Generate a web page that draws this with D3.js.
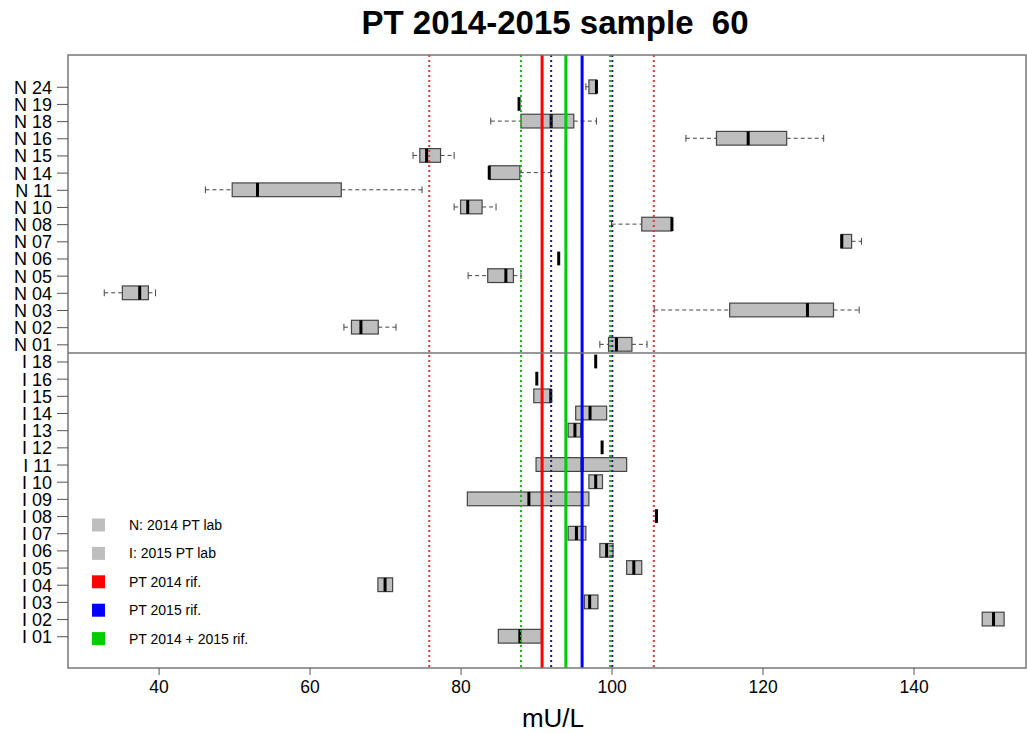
<!DOCTYPE html>
<html>
<head>
<meta charset="utf-8">
<script src="https://cdn.jsdelivr.net/npm/d3@7"></script>
<style>
  body { margin: 0; background: #fff; }
  svg { font-family: "Liberation Sans", Arial, sans-serif; }
</style>
</head>
<body>
<div id="main"></div>
<script>
'use strict';

// rows, bottom to top
var labels = ['I 01','I 02','I 03','I 04','I 05','I 06','I 07','I 08','I 09','I 10','I 11','I 12','I 13','I 14','I 15','I 16','I 18',
              'N 01','N 02','N 03','N 04','N 05','N 06','N 07','N 08','N 10','N 11','N 14','N 15','N 16','N 18','N 19','N 24'];
var lo  = [85.0,149.1,96.4,69.05,102.0,98.45,94.25,105.95,80.9,97.0,90.0,98.75,94.25,95.25,89.7,90.1,97.9,
           98.45,64.55,105.65,32.8,81.0,93.0,130.4,100.0,79.15,46.2,83.8,73.7,109.85,84.0,87.75,96.6];
var q1  = [85.0,149.1,96.4,69.05,102.0,98.45,94.25,105.95,80.9,97.0,90.0,98.75,94.25,95.25,89.7,90.1,97.9,
           99.6,65.55,115.65,35.2,83.6,93.0,130.4,104.0,80.0,49.75,83.8,74.6,113.9,88.0,87.75,97.0];
var med = [87.85,150.6,97.1,70.0,102.95,99.35,95.35,105.95,89.05,97.9,96.1,98.75,95.15,97.15,91.95,90.1,97.9,
           100.65,66.8,125.95,37.5,86.0,93.0,130.5,108.0,80.95,53.1,83.8,75.5,118.1,92.0,87.75,98.0];
var q3  = [90.7,152.0,98.2,71.0,104.0,100.2,96.6,105.95,97.0,98.8,102.0,98.75,95.9,99.35,91.95,90.1,97.9,
           102.7,69.1,129.4,38.65,87.0,93.0,131.8,108.0,82.85,64.2,87.85,77.35,123.2,95.0,87.75,98.0];
var hi  = [90.7,152.0,98.2,71.0,104.0,100.2,96.6,105.95,97.0,98.8,102.0,98.75,95.9,99.35,91.95,90.1,97.9,
           104.7,71.45,132.8,39.6,88.0,93.0,133.1,108.0,84.7,74.9,91.95,79.15,128.1,98.0,87.75,98.0];

// reference values: 2014, 2015, 2014+2015
var refNames  = ['PT 2014 rif.', 'PT 2015 rif.', 'PT 2014 + 2015 rif.'];
var refCenter = [90.8, 96.1, 93.95];
var refLow    = [75.85, 92.0, 88.0];
var refHigh   = [105.6, 100.1, 99.8];
var refColors = ['#ff0000', '#0000ff', '#00cd00'];
var refDotColors = ['#d23c3c', '#1a1a80', '#22b022'];

var xTicks = [40, 60, 80, 100, 120, 140];
var legendLabels = ['N: 2014 PT lab', 'I: 2015 PT lab'].concat(refNames);
var legendColors = ['#bebebe', '#bebebe'].concat(refColors);

var W = 1027, H = 734;
var M = { left: 68, right: 1026, top: 55, bottom: 668 };

var svg = d3.select('#main').append('svg').attr('width', W).attr('height', H);

var x = d3.scaleLinear().domain([28.0, 154.9]).range([M.left, M.right]);
var y = d3.scaleLinear().domain([-0.85, 34.85]).range([M.bottom, M.top]);
var bh = (y(0) - y(0.8)) / 2;   // half box height

var rows = labels.map(function(l, i) {
  return { label: l, pos: i + 1, lo: lo[i], q1: q1[i], med: med[i], q3: q3[i], hi: hi[i] };
});

// boxes
var g = svg.append('g');
rows.forEach(function(d) {
  var cy = y(d.pos);
  if (d.hi > d.q3) {
    g.append('line').attr('x1', x(d.q3)).attr('x2', x(d.hi)).attr('y1', cy).attr('y2', cy)
      .attr('stroke', '#444').attr('stroke-dasharray', '4,3');
    g.append('line').attr('x1', x(d.hi)).attr('x2', x(d.hi)).attr('y1', cy - bh / 2).attr('y2', cy + bh / 2)
      .attr('stroke', '#444');
  }
  if (d.lo < d.q1) {
    g.append('line').attr('x1', x(d.lo)).attr('x2', x(d.q1)).attr('y1', cy).attr('y2', cy)
      .attr('stroke', '#444').attr('stroke-dasharray', '4,3');
    g.append('line').attr('x1', x(d.lo)).attr('x2', x(d.lo)).attr('y1', cy - bh / 2).attr('y2', cy + bh / 2)
      .attr('stroke', '#444');
  }
  if (d.q3 > d.q1) {
    g.append('rect').attr('x', x(d.q1)).attr('y', cy - bh).attr('width', x(d.q3) - x(d.q1)).attr('height', 2 * bh)
      .attr('fill', '#bebebe').attr('stroke', '#444').attr('stroke-width', 1.2);
  }
  g.append('line').attr('x1', x(d.med)).attr('x2', x(d.med)).attr('y1', cy - bh).attr('y2', cy + bh)
    .attr('stroke', '#000').attr('stroke-width', 3);
});

// reference lines
var lg = svg.append('g');
refCenter.forEach(function(v, i) {
  [refLow[i], refHigh[i]].forEach(function(w) {
    lg.append('line').attr('x1', x(w)).attr('x2', x(w)).attr('y1', M.top).attr('y2', M.bottom)
      .attr('stroke', refDotColors[i]).attr('stroke-width', 2).attr('stroke-dasharray', '2,3');
  });
  lg.append('line').attr('x1', x(v)).attr('x2', x(v)).attr('y1', M.top).attr('y2', M.bottom)
    .attr('stroke', refColors[i]).attr('stroke-width', 3);
});

// separator between I and N labs
svg.append('line').attr('x1', M.left).attr('x2', M.right).attr('y1', y(17.5)).attr('y2', y(17.5))
  .attr('stroke', '#777').attr('stroke-width', 1.5);

// frame
svg.append('rect').attr('x', M.left).attr('y', M.top).attr('width', M.right - M.left).attr('height', M.bottom - M.top)
  .attr('fill', 'none').attr('stroke', '#777').attr('stroke-width', 1.5);

// axes
var xAxis = svg.append('g').attr('transform', 'translate(0,' + M.bottom + ')')
  .call(d3.axisBottom(x).tickValues(xTicks).tickSize(7).tickPadding(6));
xAxis.select('.domain').remove();
xAxis.selectAll('line').attr('stroke', '#555');
xAxis.selectAll('text').attr('font-size', 17.5).attr('fill', '#000').attr('font-family', '"Liberation Sans", Arial, sans-serif');

var yAxis = svg.append('g').attr('transform', 'translate(' + M.left + ',0)')
  .call(d3.axisLeft(y).tickValues(rows.map(function(d) { return d.pos; }))
    .tickFormat(function(p) { return labels[p - 1]; }).tickSize(11).tickPadding(5));
yAxis.select('.domain').remove();
yAxis.selectAll('line').attr('stroke', '#555');
yAxis.selectAll('text').attr('font-size', 18).attr('fill', '#000').attr('dy', '0.36em')
  .attr('font-family', '"Liberation Sans", Arial, sans-serif');

// title and axis label
svg.append('text').attr('x', 555).attr('y', 34).attr('text-anchor', 'middle')
  .attr('font-size', 33).attr('font-weight', 'bold').style('white-space', 'pre')
  .text('PT 2014-2015 sample  60');
svg.append('text').attr('x', 553).attr('y', 727).attr('text-anchor', 'middle')
  .attr('font-size', 26).text('mU/L');

// legend
var leg = svg.append('g');
legendLabels.forEach(function(t, i) {
  var ly = 525 + i * 28.4;
  leg.append('rect').attr('x', 92).attr('y', ly - 6.5).attr('width', 13).attr('height', 13)
    .attr('fill', legendColors[i]);
  leg.append('text').attr('x', 129).attr('y', ly + 5).attr('font-size', 14).text(t);
});
</script>
</body>
</html>
